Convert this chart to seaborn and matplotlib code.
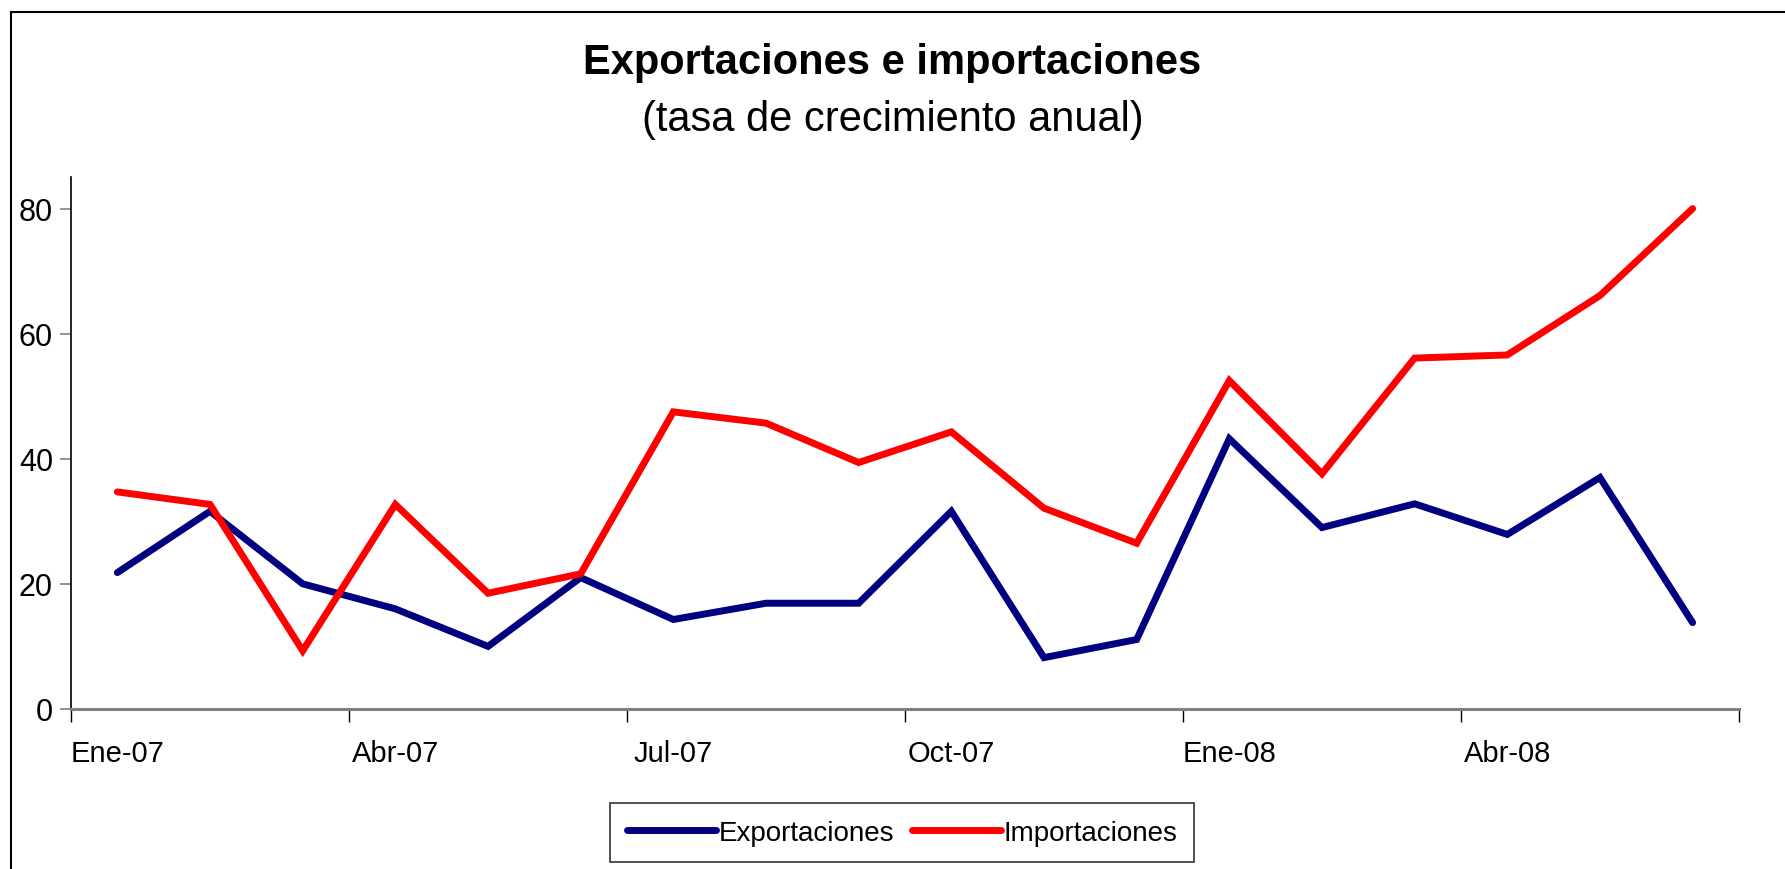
import matplotlib
matplotlib.use("Agg")
import matplotlib.pyplot as plt
import matplotlib.patches as mpatches
import seaborn as sns
import pandas as pd

# Monthly annual growth rates, Ene-07 .. Jun-08
meses = ["Ene-07", "Feb-07", "Mar-07", "Abr-07", "May-07", "Jun-07",
         "Jul-07", "Ago-07", "Sep-07", "Oct-07", "Nov-07", "Dic-07",
         "Ene-08", "Feb-08", "Mar-08", "Abr-08", "May-08", "Jun-08"]
exportaciones = [21.8, 31.6, 20.0, 16.0, 10.0, 21.0, 14.3, 16.9, 16.9,
                 31.6, 8.2, 11.1, 43.2, 29.0, 32.8, 27.9, 37.0, 13.8]
importaciones = [34.7, 32.7, 9.3, 32.7, 18.5, 21.6, 47.5, 45.7, 39.4,
                 44.3, 32.1, 26.5, 52.5, 37.6, 56.1, 56.6, 66.1, 80.0]
etiquetas = ["Ene-07", "Abr-07", "Jul-07", "Oct-07", "Ene-08", "Abr-08"]

df = pd.DataFrame({
    "pos": list(range(len(meses))) * 2,
    "valor": exportaciones + importaciones,
    "serie": ["Exportaciones"] * len(meses) + ["Importaciones"] * len(meses),
})

sns.set_style("white")
plt.rcParams["font.family"] = ["Liberation Sans", "DejaVu Sans"]
plt.rcParams["text.color"] = "black"
plt.rcParams["xtick.color"] = "black"
plt.rcParams["ytick.color"] = "black"

fig = plt.figure(figsize=(17.85, 8.7), dpi=100)
ax = fig.add_axes([0.0398, 0.184, 0.9344, 0.611])

sns.lineplot(data=df, x="pos", y="valor", hue="serie", ax=ax,
             palette={"Exportaciones": "#000080", "Importaciones": "#FF0000"},
             linewidth=5, legend=False)
for ln in ax.get_lines():
    ln.set_solid_capstyle("round")
    ln.set_solid_joinstyle("miter")

ax.set_xlim(-0.5, len(meses) - 0.5)
ax.set_ylim(0, 85)
ax.set_yticks([0, 20, 40, 60, 80])
ax.set_xticks([i - 0.5 for i in range(0, len(meses) + 1, 3)])
ax.set_xticklabels([])
ax.set_xticks([meses.index(m) for m in etiquetas], minor=True)
ax.set_xticklabels(etiquetas, minor=True)
ax.tick_params(axis="x", which="major", length=9, width=1, color="black",
               direction="out", bottom=True)
ax.tick_params(axis="x", which="minor", length=0, pad=22, labelsize=21)
ax.tick_params(axis="y", length=8, width=1.2, color="#808080", direction="out",
               left=True, labelsize=22, pad=5)
ax.set_xlabel("")
ax.set_ylabel("")

for s in ["top", "right"]:
    ax.spines[s].set_visible(False)
ax.spines["left"].set_color("black")
ax.spines["left"].set_linewidth(1.2)
ax.spines["bottom"].set_color("#808080")
ax.spines["bottom"].set_linewidth(2.2)

fig.text(0.5, 0.928, "Exportaciones e importaciones", ha="center", va="center",
         fontsize=30, fontweight="bold")
fig.text(0.5, 0.862, "(tasa de crecimiento anual)", ha="center", va="center",
         fontsize=30)

handles = [plt.Line2D([], [], color="#000080", linewidth=5, solid_capstyle="round"),
           plt.Line2D([], [], color="#FF0000", linewidth=5, solid_capstyle="round")]
leg = fig.legend(handles, ["Exportaciones", "Importaciones"], loc="center",
                 bbox_to_anchor=(0.5055, 0.0417), ncol=2, fontsize=20,
                 frameon=True, fancybox=False, edgecolor="black",
                 handlelength=3.2, handletextpad=0.1, columnspacing=0.65,
                 borderpad=0.6)
leg.get_frame().set_linewidth(1.2)

# chart-area border (open on right and bottom, as cropped)
fig.patches.append(mpatches.Rectangle((11 / 1785, -0.1), 2.0, 1.1 - 13 / 870,
                                      transform=fig.transFigure, fill=False,
                                      edgecolor="black", linewidth=1.5))

fig.savefig("out.png", dpi=100)
